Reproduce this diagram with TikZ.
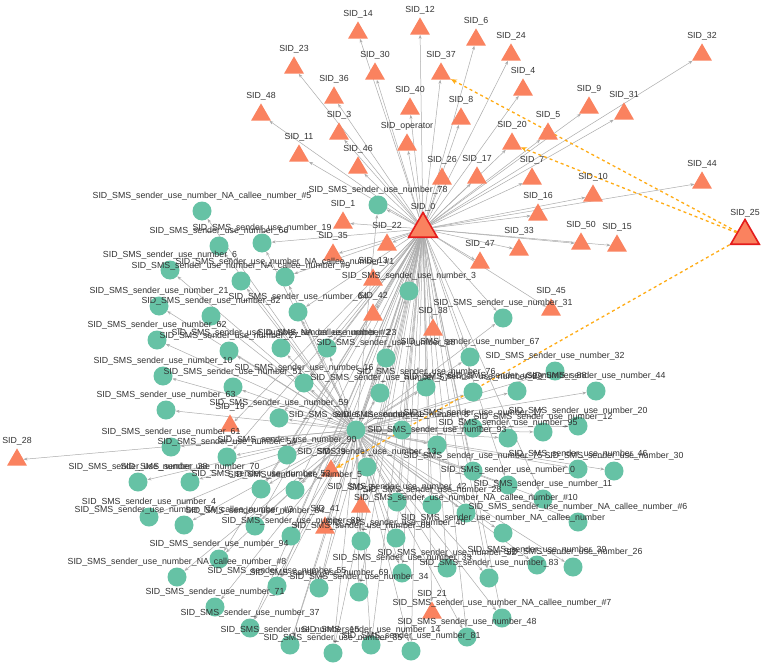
\documentclass[tikz,border=0pt]{standalone}
\usepackage{fontspec}
\setmainfont{Liberation Sans}
\usetikzlibrary{shapes.geometric,arrows.meta}
\pgfdeclarelayer{background}
\pgfdeclarelayer{foreground}
\pgfsetlayers{background,main,foreground}
\definecolor{tri}{RGB}{250,130,95}
\definecolor{cir}{RGB}{102,194,165}
\definecolor{edg}{RGB}{172,172,172}
\definecolor{txt}{RGB}{50,50,50}
\definecolor{dashc}{RGB}{255,172,20}
\definecolor{hubred}{RGB}{228,28,28}
\tikzset{
 cnode/.style={circle,fill=cir,minimum size=19pt,inner sep=0pt},
 tnode/.style={regular polygon,regular polygon sides=3,fill=tri,minimum size=23pt,inner sep=0pt,yshift=-2.9pt},
 bignode/.style={regular polygon,regular polygon sides=3,fill=tri,draw=hubred,line width=1.6pt,minimum size=33pt,inner sep=0pt,yshift=-4pt},
 lbl/.style={font=\fontsize{8.8}{10}\selectfont,text=txt,inner sep=0pt},
 lnk/.style={draw=edg,line width=0.5pt,-{Stealth[length=4pt,width=3pt]}},
 dashlink/.style={draw=dashc,line width=1.3pt,dashed,-{Stealth[length=6pt,width=5pt]}}
}
\newcommand\Cn[4]{\node[cnode] (#1) at (#2,#3) {};
 \begin{pgfonlayer}{foreground}\node[lbl] (#1t) at (#2,#3-15) {SID\_SMS\_sender\_use\_number\_#4};\end{pgfonlayer}}
\newcommand\Tn[4]{\node[tnode] (#1) at (#2,#3) {};
 \begin{pgfonlayer}{foreground}\node[lbl] (#1t) at (#2,#3-16) {SID\_#4};\end{pgfonlayer}}
\begin{document}
\begin{tikzpicture}[x=1pt,y=-1pt]
\begin{pgfonlayer}{background}
\fill[white] (0,0) rectangle (768,666);
\end{pgfonlayer}
\useasboundingbox (0,0) rectangle (768,666);
% big triangles
\node[bignode] (s0) at (423,225) {};
\begin{pgfonlayer}{foreground}\node[lbl] (s0t) at (423,207) {SID\_0};\end{pgfonlayer}
\node[bignode] (s25) at (745,232) {};
\begin{pgfonlayer}{foreground}\node[lbl] (s25t) at (745,213) {SID\_25};\end{pgfonlayer}
% triangles
\Tn{t14}{358}{30}{14}
\Tn{t12}{420}{26}{12}
\Tn{t6}{476}{37}{6}
\Tn{t24}{511}{52}{24}
\Tn{t32}{702}{52}{32}
\Tn{t23}{294}{65}{23}
\Tn{t30}{375}{71}{30}
\Tn{t37}{441}{71}{37}
\Tn{t4}{523}{87}{4}
\Tn{t36}{334}{95}{36}
\Tn{t40}{410}{106}{40}
\Tn{t9}{589}{105}{9}
\Tn{t31}{624}{111}{31}
\Tn{t48}{261}{112}{48}
\Tn{t8}{461}{116}{8}
\Tn{t3}{339}{131}{3}
\Tn{t5}{548}{131}{5}
\Tn{top}{407}{142}{operator}
\Tn{t20}{512}{141}{20}
\Tn{t11}{299}{153}{11}
\Tn{t46}{358}{165}{46}
\Tn{t26}{442}{176}{26}
\Tn{t17}{477}{175}{17}
\Tn{t7}{532}{176}{7}
\Tn{t44}{702}{180}{44}
\Tn{t10}{593}{193}{10}
\Tn{t16}{538}{212}{16}
\Tn{t1}{343}{220}{1}
\Tn{t22}{387}{242}{22}
\Tn{t35}{333}{252}{35}
\Tn{t33}{519}{247}{33}
\Tn{t50}{581}{241}{50}
\Tn{t15}{617}{243}{15}
\Tn{t47}{480}{260}{47}
\Tn{t13}{373}{277}{13}
\Tn{t42}{373}{312}{42}
\Tn{t45}{551}{307}{45}
\Tn{t38}{433}{327}{38}
\Tn{t19}{230}{423}{19}
\Tn{t28}{17}{457}{28}
\Tn{t39}{331}{468}{39}
\Tn{t2}{361}{504}{2}
\Tn{t41}{325}{525}{41}
\Tn{t21}{432}{610}{21}
% circles
\Cn{c78}{378}{205}{78}
\Cn{cna5}{202}{211}{NA\_callee\_number\_\#5}
\Cn{c66}{219}{246}{66}
\Cn{c19}{262}{243}{19}
\Cn{c6}{170}{270}{6}
\Cn{cna9}{241}{281}{NA\_callee\_number\_\#9}
\Cn{cna1}{285}{277}{NA\_callee\_number\_\#1}
\Cn{c3}{409}{291}{3}
\Cn{c21}{159}{306}{21}
\Cn{c82}{211}{316}{82}
\Cn{c64}{298}{312}{64}
\Cn{c31}{503}{318}{31}
\Cn{c62}{157}{340}{62}
\Cn{c27}{229}{351}{27}
\Cn{cna2}{281}{348}{NA\_callee\_number\_\#2}
\Cn{c23}{327}{348}{23}
\Cn{c18}{386}{358}{18}
\Cn{c67}{470}{357}{67}
\Cn{c32}{555}{371}{32}
\Cn{c10}{163}{376}{10}
\Cn{c51}{233}{387}{51}
\Cn{c16}{304}{383}{16}
\Cn{c57}{380}{393}{57}
\Cn{c76}{426}{387}{76}
\Cn{c29}{473}{392}{29}
\Cn{c88}{517}{391}{88}
\Cn{c44}{596}{391}{44}
\Cn{c63}{166}{410}{63}
\Cn{c59}{279}{418}{59}
\Cn{hub}{356}{430}{1}
\Cn{c8}{402}{430}{8}
\Cn{c17}{473}{428}{17}
\Cn{c12}{543}{432}{12}
\Cn{c95}{508}{438}{95}
\Cn{c20}{578}{426}{20}
\Cn{c93}{437}{445}{93}
\Cn{c61}{171}{447}{61}
\Cn{c54}{227}{457}{54}
\Cn{c90}{287}{455}{90}
\Cn{c13}{367}{467}{13}
\Cn{c75}{473}{471}{75}
\Cn{c46}{578}{469}{46}
\Cn{c30}{614}{471}{30}
\Cn{c0}{508}{485}{0}
\Cn{c38}{138}{482}{38}
\Cn{c70}{190}{482}{70}
\Cn{c53}{261}{489}{53}
\Cn{c5}{295}{490}{5}
\Cn{c11}{543}{499}{11}
\Cn{c42}{397}{502}{42}
\Cn{c28}{432}{505}{28}
\Cn{cna10}{466}{513}{NA\_callee\_number\_\#10}
\Cn{c4}{149}{517}{4}
\Cn{cna3}{184}{525}{NA\_callee\_number\_\#3}
\Cn{c84}{255}{526}{84}
\Cn{cna6}{578}{522}{NA\_callee\_number\_\#6}
\Cn{cna}{503}{533}{NA\_callee\_number}
\Cn{c89}{291}{536}{89}
\Cn{c68}{361}{541}{68}
\Cn{c40}{396}{538}{40}
\Cn{c94}{219}{559}{94}
\Cn{c39}{537}{565}{39}
\Cn{c26}{573}{567}{26}
\Cn{c52}{447}{568}{52}
\Cn{c33}{402}{573}{33}
\Cn{c83}{489}{578}{83}
\Cn{cna8}{177}{577}{NA\_callee\_number\_\#8}
\Cn{c55}{277}{586}{55}
\Cn{c69}{319}{588}{69}
\Cn{c34}{359}{592}{34}
\Cn{c71}{215}{607}{71}
\Cn{cna7}{502}{618}{NA\_callee\_number\_\#7}
\Cn{c37}{250}{628}{37}
\Cn{c48}{467}{637}{48}
\Cn{c15}{290}{645}{15}
\Cn{c14}{371}{645}{14}
\Cn{c85}{333}{653}{85}
\Cn{c81}{411}{651}{81}
% connectors
\begin{pgfonlayer}{background}
\foreach \n in {t14,t12,t6,t24,t32,t23,t30,t37,t4,t36,t40,t9,t31,t48,t8,t3,t5,top,t20,t11,t46,t26,t17,t7,t44,t10,t16,t1,t22,t35,t33,t50,t15,t47,t13,t42,t45,t38,t19,t39,t2,t41,t21,hub}
  \draw[lnk] (s0) -- (\n);
\foreach \n in {c78,c3,c64,c23,c18,c16,c57,c76,c90,c59,c54,c13,c5,c53,c84,c89,c94,c55,c69,c37,c15,c85,c14,c34,c68,c42,c28,c40,c33,c52,c81,c48,cna7,c83,c75,c0,c11,cna10,c31,c67,c8,cna1,c19}
  \draw[lnk] (s0) -- (\n);
\foreach \n in {c78,cna5,c66,c19,c6,cna9,cna1,c3,c21,c82,c64,c31,c62,c27,cna2,c23,c18,c67,c32,c10,c51,c16,c57,c76,c29,c88,c44,c63,c59,c8,c17,c12,c95,c20,c93,c61,c54,c90,c13,c75,c46,c30,c0,c38,c70,c53,c5,c11,c42,c28,cna10,c4,cna3,c84,cna6,cna,c89,c68,c40,c94,c39,c26,c52,c33,c83,cna8,c55,c69,c34,c71,cna7,c37,c48,c15,c14,c85,c81,t28}
  \draw[lnk] (hub) -- (\n);
\draw[dashlink] (s25) -- (t37);
\draw[dashlink] (s25) -- (t20);
\draw[dashlink] (s25) -- (t39);
\end{pgfonlayer}
\end{tikzpicture}
\end{document}
